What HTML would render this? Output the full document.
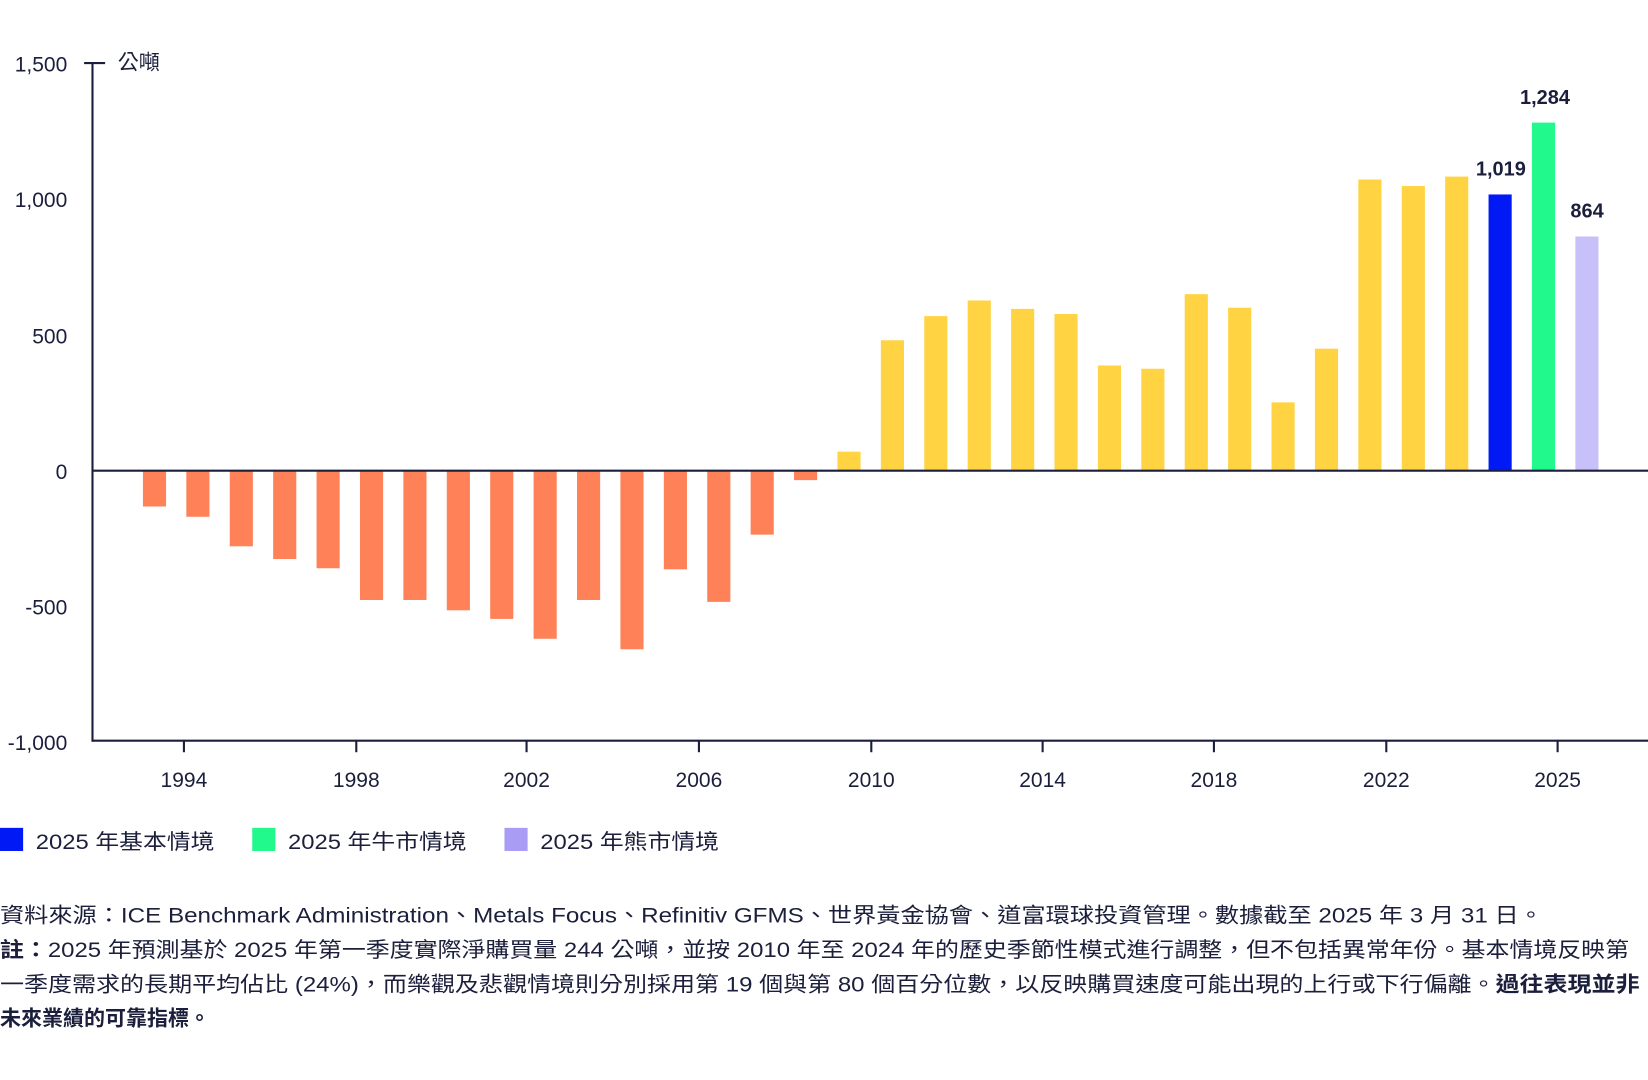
<!DOCTYPE html>
<html><head><meta charset="utf-8"><style>
html,body{margin:0;padding:0;background:#fff;}
svg{display:block}
text{font-family:"Liberation Sans","Noto Sans CJK TC",sans-serif;fill:#1b1f3b;}
</style></head><body>
<svg width="1648" height="1080" viewBox="0 0 1568 1028" preserveAspectRatio="none">
<g font-size="20">
<text x="64" y="68" text-anchor="end">1,500</text>
<text x="64" y="197" text-anchor="end">1,000</text>
<text x="64" y="327" text-anchor="end">500</text>
<text x="64" y="456" text-anchor="end">0</text>
<text x="64" y="585" text-anchor="end">-500</text>
<text x="64" y="714" text-anchor="end">-1,000</text>
<text x="112" y="66">公噸</text>
</g>
<line x1="80" y1="60" x2="100" y2="60" stroke="#1b1f3b" stroke-width="2"/>
<line x1="88" y1="60" x2="88" y2="706" stroke="#1b1f3b" stroke-width="2"/>
<line x1="88" y1="705" x2="1568" y2="705" stroke="#1b1f3b" stroke-width="2"/>
<g fill="#ff8157">
<rect x="136" y="448" width="22" height="34.1"/>
<rect x="177.3" y="448" width="22" height="43.9"/>
<rect x="218.6" y="448" width="22" height="72"/>
<rect x="259.9" y="448" width="22" height="84.1"/>
<rect x="301.2" y="448" width="22" height="92.9"/>
<rect x="342.5" y="448" width="22" height="123.1"/>
<rect x="383.8" y="448" width="22" height="123.1"/>
<rect x="425.1" y="448" width="22" height="132.9"/>
<rect x="466.4" y="448" width="22" height="141.1"/>
<rect x="507.7" y="448" width="22" height="160"/>
<rect x="549" y="448" width="22" height="123.1"/>
<rect x="590.3" y="448" width="22" height="170"/>
<rect x="631.6" y="448" width="22" height="93.9"/>
<rect x="672.9" y="448" width="22" height="124.9"/>
<rect x="714.2" y="448" width="22" height="60.9"/>
<rect x="755.5" y="448" width="22" height="9"/>
</g>
<g fill="#ffd342">
<rect x="796.8" y="429.9" width="22" height="18.1"/>
<rect x="838.1" y="323.9" width="22" height="124.1"/>
<rect x="879.4" y="300.9" width="22" height="147.1"/>
<rect x="920.7" y="286" width="22" height="162"/>
<rect x="962" y="294" width="22" height="154"/>
<rect x="1003.3" y="298.9" width="22" height="149.1"/>
<rect x="1044.6" y="347.9" width="22" height="100.1"/>
<rect x="1085.9" y="351" width="22" height="97"/>
<rect x="1127.2" y="280" width="22" height="168"/>
<rect x="1168.5" y="292.9" width="22" height="155.1"/>
<rect x="1209.8" y="383" width="22" height="65"/>
<rect x="1251.1" y="331.9" width="22" height="116.1"/>
<rect x="1292.4" y="170.9" width="22" height="277.1"/>
<rect x="1333.7" y="177.1" width="22" height="270.9"/>
<rect x="1375" y="168.1" width="22" height="279.9"/>
</g>
<rect x="1416.3" y="185.1" width="22" height="262.9" fill="#0019f5"/>
<rect x="1457.6" y="116.7" width="22" height="331.3" fill="#22f98c"/>
<rect x="1498.9" y="225.1" width="22" height="222.9" fill="#c8c0f8"/>
<line x1="88" y1="448" x2="1568" y2="448" stroke="#1b1f3b" stroke-width="2"/>
<g stroke="#1b1f3b" stroke-width="2">
<line x1="175" y1="705" x2="175" y2="716"/><line x1="339" y1="705" x2="339" y2="716"/><line x1="501" y1="705" x2="501" y2="716"/><line x1="665" y1="705" x2="665" y2="716"/><line x1="829" y1="705" x2="829" y2="716"/><line x1="992" y1="705" x2="992" y2="716"/><line x1="1155" y1="705" x2="1155" y2="716"/><line x1="1319" y1="705" x2="1319" y2="716"/><line x1="1482" y1="705" x2="1482" y2="716"/>
</g>
<g font-size="20" text-anchor="middle">
<text x="175" y="749">1994</text><text x="339" y="749">1998</text><text x="501" y="749">2002</text><text x="665" y="749">2006</text><text x="829" y="749">2010</text><text x="992" y="749">2014</text><text x="1155" y="749">2018</text><text x="1319" y="749">2022</text><text x="1482" y="749">2025</text>
</g>
<g font-size="19" font-weight="bold" text-anchor="middle">
<text x="1428" y="167" fill="#000">1,019</text><text x="1470" y="99" fill="#000">1,284</text><text x="1510" y="207" fill="#000">864</text>
</g>
<rect x="0" y="788" width="22" height="22" fill="#0019f5"/>
<rect x="240" y="788" width="22" height="22" fill="#22f98c"/>
<rect x="480" y="788" width="22" height="22" fill="#a99cf5"/>
<g font-size="20">
<text x="34" y="808" textLength="170" lengthAdjust="spacingAndGlyphs">2025 年基本情境</text>
<text x="274" y="808" textLength="170" lengthAdjust="spacingAndGlyphs">2025 年牛市情境</text>
<text x="514" y="808" textLength="170" lengthAdjust="spacingAndGlyphs">2025 年熊市情境</text>
<text x="0" y="878" textLength="1468" lengthAdjust="spacingAndGlyphs">資料來源：ICE Benchmark Administration、Metals Focus、Refinitiv GFMS、世界黃金協會、道富環球投資管理。數據截至 2025 年 3 月 31 日。</text>
<text x="0" y="911" textLength="1550" lengthAdjust="spacingAndGlyphs"><tspan font-weight="bold">註：</tspan>2025 年預測基於 2025 年第一季度實際淨購買量 244 公噸，並按 2010 年至 2024 年的歷史季節性模式進行調整，但不包括異常年份。基本情境反映第</text>
<text x="0" y="944" textLength="1560" lengthAdjust="spacingAndGlyphs">一季度需求的長期平均佔比 (24%)，而樂觀及悲觀情境則分別採用第 19 個與第 80 個百分位數，以反映購買速度可能出現的上行或下行偏離。<tspan font-weight="bold">過往表現並非</tspan></text>
<text x="0" y="976" font-weight="bold">未來業績的可靠指標。</text>
</g>
</svg>
</body></html>
